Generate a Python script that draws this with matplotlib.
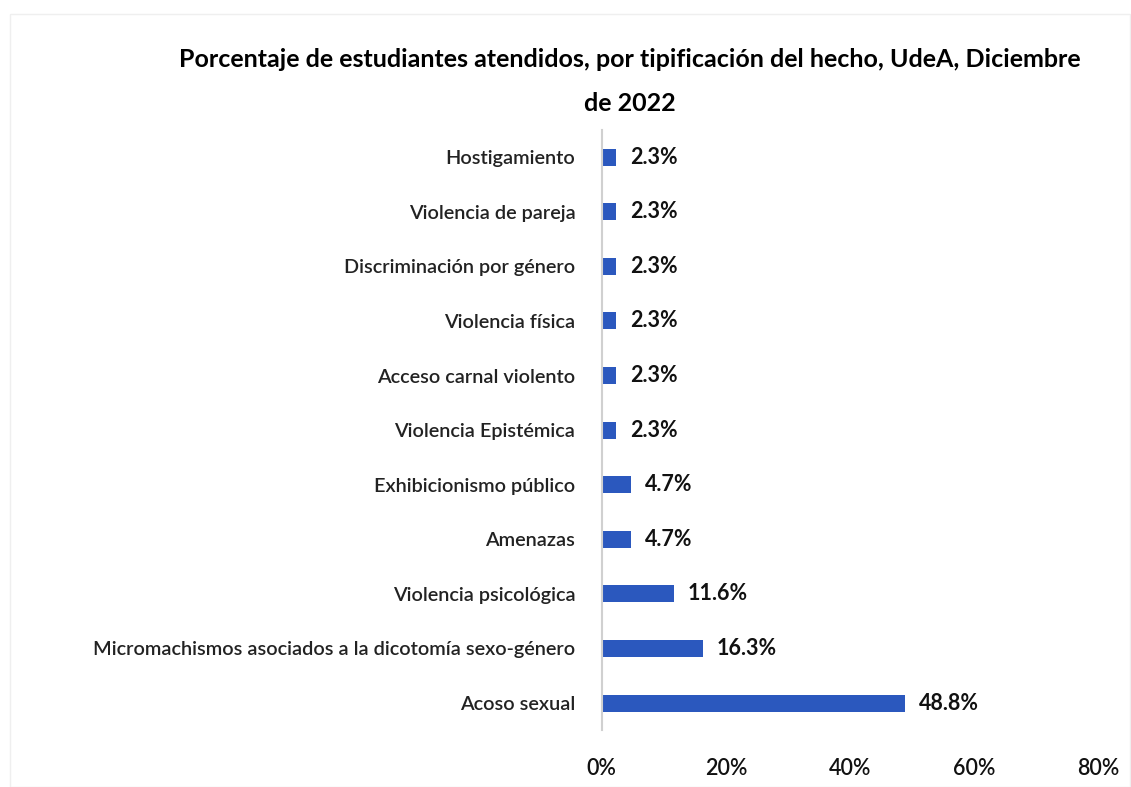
import matplotlib.pyplot as plt
import matplotlib
from matplotlib.patches import Rectangle

matplotlib.rcParams['font.family'] = ['Lato', 'DejaVu Sans']

# datos (de abajo hacia arriba)
categorias = [
    'Acoso sexual',
    'Micromachismos asociados a la dicotomía sexo-género',
    'Violencia psicológica',
    'Amenazas',
    'Exhibicionismo público',
    'Violencia Epistémica',
    'Acceso carnal violento',
    'Violencia física',
    'Discriminación por género',
    'Violencia de pareja',
    'Hostigamiento',
]
porcentajes = [48.8, 16.3, 11.6, 4.7, 4.7, 2.3, 2.3, 2.3, 2.3, 2.3, 2.3]
ticks_x = [0, 20, 40, 60, 80]

fig = plt.figure(figsize=(11.31, 7.87), dpi=100)
ax = fig.add_axes([0.532, 0.072, 0.439, 0.763])

ax.barh(range(len(categorias)), porcentajes, height=0.31, color='#2B58BE')
ax.set_ylim(-0.5, len(categorias) - 0.5)
ax.set_xlim(0, 80)

ax.set_yticks(range(len(categorias)))
ax.set_yticklabels(categorias, fontsize=14.3, fontweight='semibold', color='#222222')
ax.set_xticks(ticks_x)
ax.set_xticklabels([f'{t}%' for t in ticks_x], fontsize=15.5, fontweight='semibold', color='#111111')
ax.tick_params(axis='y', length=0, pad=19)
ax.tick_params(axis='x', length=0, pad=20)

for s in ['top', 'right', 'bottom']:
    ax.spines[s].set_visible(False)
ax.spines['left'].set_color('#D0D0D0')
ax.spines['left'].set_linewidth(1.5)

for i, v in enumerate(porcentajes):
    ax.annotate(f'{v:.1f}%', (v, i), xytext=(10, 0), textcoords='offset points',
                va='center', ha='left', fontsize=15.5, fontweight='bold', color='#111111')

fig.text(0.557, 0.924, 'Porcentaje de estudiantes atendidos, por tipificación del hecho, UdeA, Diciembre',
         ha='center', va='center', fontsize=18, fontweight='bold')
fig.text(0.557, 0.869, 'de 2022', ha='center', va='center', fontsize=18, fontweight='bold')

# marco del gráfico
fig.patches.append(Rectangle((0.009, 0.0), 0.99, 0.982, transform=fig.transFigure,
                             fill=False, edgecolor='#EFEFEF', linewidth=1))

fig.savefig('out.png', dpi=100, facecolor='white')
